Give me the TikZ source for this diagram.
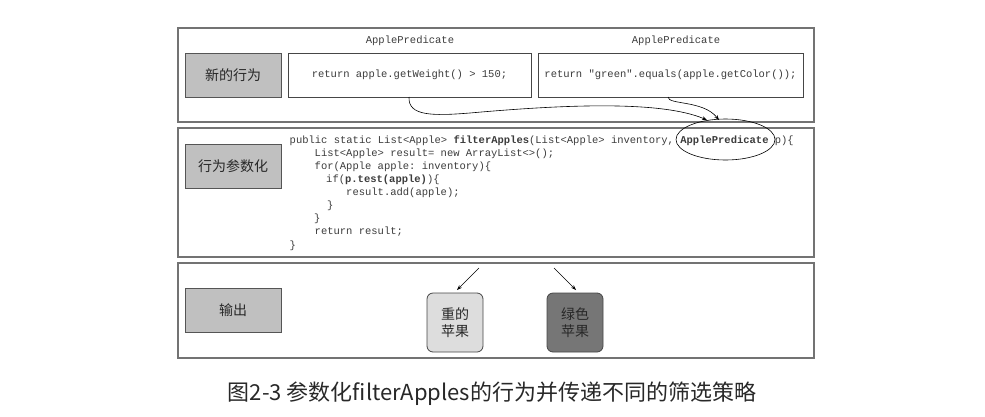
\documentclass[tikz,border=0pt]{standalone}
\usepackage{fontspec}
\setmainfont{Liberation Sans}
\setmonofont{Liberation Mono}
\newfontfamily\cjk{Noto Sans CJK SC}
\usetikzlibrary{shapes.geometric,arrows.meta}
\definecolor{panelc}{RGB}{115,115,115}
\definecolor{labc}{RGB}{85,85,85}
\definecolor{labfill}{RGB}{192,192,192}
\definecolor{boxc}{RGB}{70,70,70}
\definecolor{txtc}{RGB}{40,40,40}
\definecolor{codec}{RGB}{60,60,60}
\definecolor{lightapple}{RGB}{221,221,221}
\definecolor{darkapple}{RGB}{118,118,118}
\begin{document}
\begin{tikzpicture}[x=1pt,y=-1pt,
  panel/.style={draw=panelc,line width=1.3pt,inner sep=0pt,outer sep=0pt,minimum width=636pt},
  lab/.style={draw=labc,fill=labfill,line width=0.8pt,minimum width=96pt,minimum height=44pt,
    font=\cjk\fontsize{14}{16}\selectfont,text=txtc},
  codebox/.style={draw=boxc,line width=0.8pt,fill=white,minimum height=44pt,
    font=\ttfamily\fontsize{10.5}{12}\selectfont,text=codec},
  code/.style={font=\ttfamily\fontsize{10.5}{12}\selectfont,anchor=base west,inner sep=0pt,text=codec},
  apple/.style={draw=boxc,line width=0.8pt,rounded corners=6pt,minimum width=56pt,minimum height=59pt,
    align=center,font=\cjk\fontsize{14}{17}\selectfont,text=txtc},
  arr/.style={-{Stealth[length=5pt,width=3.6pt]},line width=0.6pt,draw=black},
]
\useasboundingbox (0,0) rectangle (985,416);

% panels
\node[panel,minimum height=94pt,anchor=north west] (p1) at (178,28) {};
\node[panel,minimum height=129pt,anchor=north west] (p2) at (178,128) {};
\node[panel,minimum height=95pt,anchor=north west] (p3) at (178,263) {};

% row labels
\node[lab] (l1) at (233,75) {新的行为};
\node[lab] (l2) at (233,166) {行为参数化};
\node[lab] (l3) at (233,310) {输出};

% code boxes
\node[code,anchor=base] (t1) at (410,43) {ApplePredicate};
\node[code,anchor=base] (t2) at (676,43) {ApplePredicate};
\node[codebox,minimum width=243pt] (c1) at (409.5,75) {return apple.getWeight() > 150;};
\node[codebox,minimum width=265pt] (c2) at (670.5,75) {return "green".equals(apple.getColor());};

% code
\node[code] (k1) at (289.5,143.5) {public static List<Apple> \textbf{filterApples}(List<Apple> inventory, \textbf{ApplePredicate} p)\{};
\node[code] (k2) at (314.5,156.5) {List<Apple> result= new ArrayList<>();};
\node[code] (k3) at (314.5,169.5) {for(Apple apple: inventory)\{};
\node[code] (k4) at (326,182.5) {if(\textbf{p.test(apple)})\{};
\node[code] (k5) at (346,195.5) {result.add(apple);};
\node[code] (k6) at (327,208.5) {\}};
\node[code] (k7) at (314,221.5) {\}};
\node[code] (k8) at (314.5,234.5) {return result;};
\node[code] (k9) at (289.5,248) {\}};

% ellipse
\node[ellipse,draw=black,line width=0.6pt,minimum width=99pt,minimum height=41pt] (el) at (725.5,139.5) {};

% arrows from behaviours to parameter
\coordinate (s1) at (409,97);
\coordinate (e1) at (707,120);
\coordinate (m1) at (470,113);
\coordinate (s2) at (668,97);
\coordinate (e2) at (719,120);
\draw[arr] (s1) .. controls (408,116) and (432,116) .. (m1) .. controls (560,105) and (660,100) .. (e1);
\draw[arr] (s2) .. controls (668,105) and (703,100) .. (e2);

% outputs
\node[apple,fill=lightapple] (a1) at (455,322.5) {重的\\苹果};
\node[apple,fill=darkapple] (a2) at (575,322.5) {绿色\\苹果};
\coordinate (o1) at (479,268);
\coordinate (o2) at (554,268);
\draw[arr] (o1) -- (457,290);
\draw[arr] (o2) -- (576,290);

% caption
\node[font=\cjk\fontsize{22}{24}\selectfont,text=txtc] (cap) at (492,394) {图2-3 参数化filterApples的行为并传递不同的筛选策略};
\end{tikzpicture}
\end{document}
